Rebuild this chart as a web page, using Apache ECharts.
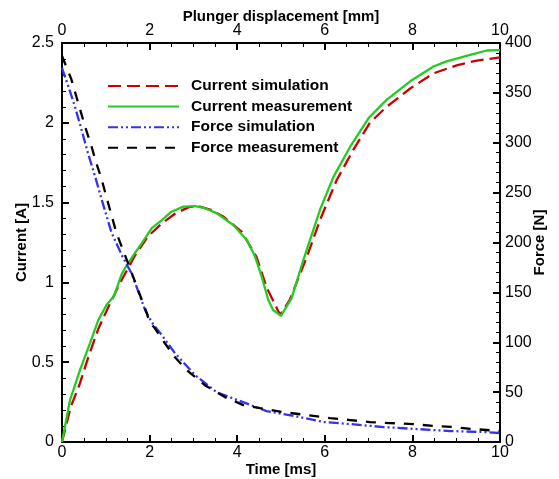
<!DOCTYPE html>
<html>
<head>
<meta charset="utf-8">
<script src="https://cdn.jsdelivr.net/npm/echarts@6/dist/echarts.min.js"></script>
<style>
html,body{margin:0;padding:0;background:#fff;}
#chart{width:559px;height:479px;}
</style>
</head>
<body>
<div id="chart"></div>
<script>
// Current simulation [A]
var tCurSim = [0, 0.2, 0.4, 0.6, 0.83, 1.1, 1.36, 1.67, 1.97, 2.28, 2.58, 2.88, 3.1, 3.4, 3.68, 4.1, 4.44, 4.67, 4.98, 5.2, 5.59, 5.89, 6.27, 6.65, 7.03, 7.41, 7.95, 8.48, 9.01, 9.47, 10];
var curSim  = [0, 0.22, 0.36, 0.53, 0.71, 0.87, 1.015, 1.17, 1.29, 1.37, 1.43, 1.47, 1.478, 1.455, 1.413, 1.318, 1.16, 0.97, 0.796, 0.89, 1.16, 1.39, 1.64, 1.83, 2.0, 2.1, 2.215, 2.31, 2.36, 2.39, 2.41];
// Current measurement [A]
var tCurMeas = [0, 0.18, 0.41, 0.64, 0.83, 1.02, 1.19, 1.36, 1.44, 1.63, 1.82, 2.05, 2.28, 2.5, 2.77, 3.04, 3.26, 3.53, 3.91, 4.22, 4.41, 4.56, 4.71, 4.82, 5.0, 5.24, 5.51, 5.89, 6.2, 6.58, 7.0, 7.41, 7.95, 8.48, 8.78, 9.32, 9.7, 10];
var curMeas  = [0, 0.26, 0.45, 0.62, 0.765, 0.86, 0.915, 1.05, 1.09, 1.17, 1.245, 1.34, 1.39, 1.443, 1.475, 1.478, 1.465, 1.434, 1.36, 1.266, 1.16, 1.036, 0.89, 0.827, 0.79, 0.9, 1.14, 1.455, 1.663, 1.85, 2.03, 2.144, 2.26, 2.353, 2.385, 2.426, 2.453, 2.455];
// Force simulation [N]
var tForceSim = [0, 0.14, 0.29, 0.44, 0.59, 0.75, 0.9, 1.13, 1.38, 1.59, 1.9, 2.05, 2.28, 2.58, 3.04, 3.53, 3.95, 4.67, 5.43, 5.97, 6.58, 7.34, 8.1, 8.86, 9.62, 10];
var forceSim  = [375, 357, 337, 314, 290, 267, 244, 210, 186, 169, 132, 120, 107, 89, 67, 50, 43, 31, 25, 20, 18, 15, 13, 11, 10, 9];
// Force measurement [N]
var tForceMeas = [0, 0.21, 0.37, 0.52, 0.67, 0.78, 0.9, 1.05, 1.24, 1.51, 1.74, 1.93, 2.0, 2.12, 2.35, 2.58, 2.85, 3.26, 3.72, 4.14, 4.52, 5.05, 5.59, 6.12, 6.58, 7.03, 7.49, 8.02, 8.48, 8.93, 9.39, 10];
var forceMeas  = [387, 364, 340, 317, 297, 280, 264, 240, 210, 179, 152, 130, 120, 114, 99, 85, 72, 57, 45, 37, 34, 30, 27, 24, 22, 20, 19, 18, 16, 15, 13, 11];
// Axis ticks
var timeTicks = {min: 0, max: 10, interval: 2};
var dispTicks = {min: 0, max: 10, interval: 2};
var currentTicks = {min: 0, max: 2.5, interval: 0.5};
var forceTicks = {min: 0, max: 400, interval: 50};

function zip(a, b) { return a.map(function (v, i) { return [v, b[i]]; }); }

var FONT = "'Liberation Sans', Arial, sans-serif";
function axisBase(ticks, minorSplit) {
  return {
    type: 'value', min: ticks.min, max: ticks.max, interval: ticks.interval,
    axisLine: {show: true, onZero: false, lineStyle: {color: '#000', width: 2}},
    axisTick: {show: true, inside: true, length: 7, lineStyle: {color: '#000', width: 2}},
    minorTick: {show: true, splitNumber: minorSplit, length: 4, lineStyle: {color: '#000', width: 1}},
    splitLine: {show: false}, minorSplitLine: {show: false},
    axisLabel: {color: '#000', fontSize: 16, fontFamily: FONT},
    nameLocation: 'middle',
    nameMoveOverlap: false,
    nameTextStyle: {color: '#000', fontSize: 15, fontWeight: 'bold', fontFamily: FONT}
  };
}

var xb = axisBase(timeTicks, 4); xb.position = 'bottom'; xb.name = 'Time [ms]'; xb.nameGap = 20; xb.axisLabel.margin = 3;
var xt = axisBase(dispTicks, 4); xt.position = 'top'; xt.name = 'Plunger displacement [mm]'; xt.nameGap = 19; xt.axisLabel.margin = 4;
var yl = axisBase(currentTicks, 5); yl.position = 'left'; yl.name = 'Current [A]'; yl.nameGap = 33; yl.nameRotate = 90; yl.axisLabel.margin = 8;
var yr = axisBase(forceTicks, 5); yr.position = 'right'; yr.name = 'Force [N]'; yr.nameGap = 32; yr.nameRotate = 90; yr.axisLabel.margin = 5;

var chart = echarts.init(document.getElementById('chart'), null, {renderer: 'canvas'});
chart.setOption({
  animation: false,
  backgroundColor: '#fff',
  grid: {left: 62, right: 59, top: 43, bottom: 37, containLabel: false, outerBoundsMode: 'none'},
  xAxis: [xb, xt],
  yAxis: [yl, yr],
  legend: {
    orient: 'vertical', left: 107, top: 78, padding: 0,
    itemWidth: 71, itemHeight: 14, itemGap: 4.6,
    itemStyle: {opacity: 0},
    textStyle: {color: '#000', fontSize: 15.5, fontWeight: 'bold', fontFamily: FONT, padding: [0, 0, 0, 7]},
    data: ['Current simulation', 'Current measurement', 'Force simulation', 'Force measurement']
  },
  series: [
    {name: 'Current simulation', type: 'line', xAxisIndex: 0, yAxisIndex: 0, symbol: 'none',
     data: zip(tCurSim, curSim), color: '#cc0000',
     lineStyle: {color: '#cc0000', width: 2.3, type: [13, 6]}},
    {name: 'Current measurement', type: 'line', xAxisIndex: 0, yAxisIndex: 0, symbol: 'none',
     data: zip(tCurMeas, curMeas), color: '#22cc22',
     lineStyle: {color: '#22cc22', width: 2.3, type: 'solid'}},
    {name: 'Force simulation', type: 'line', xAxisIndex: 0, yAxisIndex: 1, symbol: 'none',
     data: zip(tForceSim, forceSim), color: '#3333ee',
     lineStyle: {color: '#3333ee', width: 2.3, type: [10, 3, 2, 3, 2, 3]}},
    {name: 'Force measurement', type: 'line', xAxisIndex: 0, yAxisIndex: 1, symbol: 'none',
     data: zip(tForceMeas, forceMeas), color: '#000',
     lineStyle: {color: '#000', width: 2.3, type: [10, 9]}}
  ]
});
</script>
</body>
</html>
